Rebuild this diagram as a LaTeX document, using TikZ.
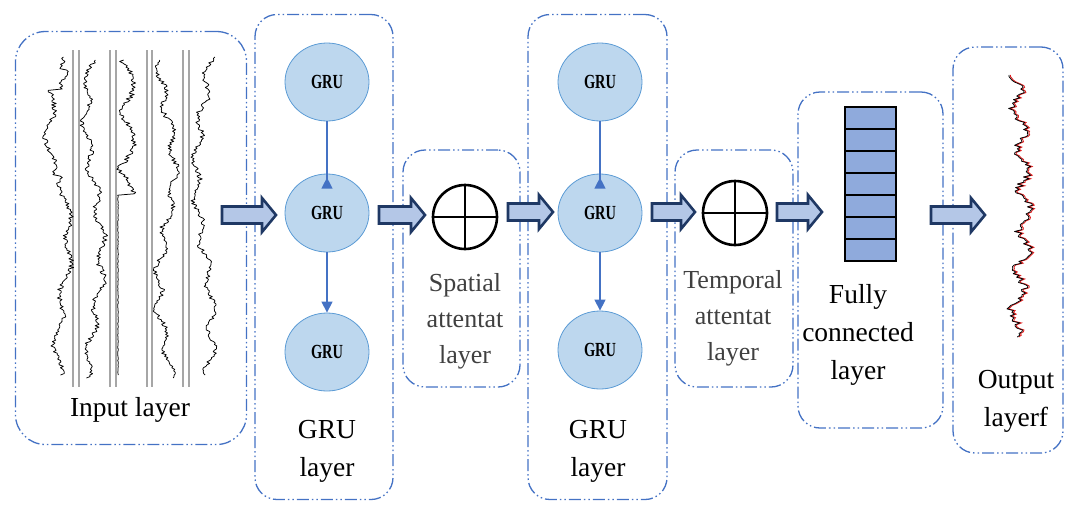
\documentclass[tikz,border=0pt]{standalone}
\usepackage{fontspec}
\usepackage{graphicx}
\setmainfont{Liberation Serif}
\usetikzlibrary{shapes.geometric,arrows.meta}
\definecolor{boxblue}{HTML}{4472C4}
\definecolor{cellfill}{HTML}{BDD7EE}
\definecolor{celledge}{HTML}{5B9BD5}
\definecolor{linkblue}{HTML}{4472C4}
\definecolor{arrfill}{HTML}{B4C7E7}
\definecolor{arredge}{HTML}{1F3864}
\definecolor{fcfill}{HTML}{8FAADC}
\definecolor{trackgray}{HTML}{A6A6A6}
\definecolor{curvered}{HTML}{E02020}
\tikzset{
  layerbox/.style={draw=boxblue, line width=1.3pt, rounded corners=22pt,
    dash pattern=on 12pt off 3pt on 1.5pt off 3pt on 1.5pt off 3pt, inner sep=0pt},
  grucell/.style={ellipse, draw=celledge, fill=cellfill, line width=0.8pt,
    minimum width=84pt, minimum height=78pt, inner sep=0pt,
    font=\bfseries\fontsize{20}{20}\selectfont},
  link/.style={draw=linkblue, line width=1.3pt},
  barrow/.style={draw=arredge, fill=arrfill, line width=2.6pt, line join=miter},
  oplusnode/.style={circle, draw=black, line width=2.6pt, minimum size=64pt, inner sep=0pt},
  lbl/.style={align=center, font=\fontsize{27.5}{38}\selectfont, inner sep=0pt},
  lblgray/.style={align=center, font=\fontsize{26}{36}\selectfont, text=black!75, inner sep=0pt},
  fccell/.style={draw=black, fill=fcfill, line width=1.5pt, minimum width=51pt, minimum height=22pt, inner sep=0pt},
  track/.style={draw=trackgray, line width=1.1pt},
  wave/.style={draw=black, line width=0.75pt, line join=round},
}
\newcommand\blockarr[3]{%
  \draw[barrow] (#1,#3-8.5) -- (#2-14,#3-8.5) -- (#2-14,#3-17) -- (#2,#3)
    -- (#2-14,#3+17) -- (#2-14,#3+8.5) -- (#1,#3+8.5) -- cycle;}
\newcommand\grutext{\scalebox{0.72}[1]{GRU}}
\begin{document}
\begin{tikzpicture}[x=1pt,y=-1pt]
\useasboundingbox (0,0) rectangle (1067,504);

% layer boxes
\node[layerbox, rounded corners=30pt, minimum width=231pt, minimum height=413pt] (inbox) at (131,238) {};
\node[layerbox, minimum width=138pt, minimum height=485pt] (grubox1) at (324,257) {};
\node[layerbox, minimum width=117pt, minimum height=237pt] (spbox) at (461.5,268.5) {};
\node[layerbox, minimum width=139pt, minimum height=485pt] (grubox2) at (597.5,257) {};
\node[layerbox, minimum width=118pt, minimum height=237pt] (tpbox) at (734,268.5) {};
\node[layerbox, minimum width=145pt, minimum height=336pt] (fcbox) at (870.5,260) {};
\node[layerbox, minimum width=110pt, minimum height=406pt] (outbox) at (1008,250) {};

% input curves
\foreach \tx in {73,79,110,116,147,152,183,189}{
  \draw[track] (\tx,50) -- (\tx,387);
}
\pgfmathsetseed{7}
\draw[wave] plot[domain=57:375, samples=220] ({55+6*sin(1.7*\x+40)+4*sin(7*\x+30)+2.5*rand+(\x>175?8:0)+(\x>70&&\x<90?10:0)}, \x);
\draw[wave] plot[domain=60:378, samples=220] ({94+8*sin(1.3*\x+120)+4*sin(8*\x)+2.5*rand}, \x);
\draw[wave] plot[domain=60:375, samples=220] ({118+(\x<195?16*abs(sin(3.2*\x))+3*rand:0.4*rand)}, \x);
\draw[wave] plot[domain=60:378, samples=220] ({166+8*sin(1.5*\x+200)+4*sin(9*\x)+2.5*rand}, \x);
\draw[wave] plot[domain=57:375, samples=220] ({204+8*sin(1.2*\x+60)+4*sin(8.5*\x)+2.5*rand}, \x);
\node[lbl] (inlbl) at (130,410) {Input layer};

% GRU layer 1
\node[grucell] (g1t) at (327,82) {\grutext};
\node[grucell] (g1m) at (327,213) {\grutext};
\node[grucell] (g1b) at (327,352) {\grutext};
\draw[link, -{Triangle[reversed,length=11pt,width=11pt]}] (g1t.south) -- ([yshift=-15pt]g1m.north);
\draw[link, -{Triangle[length=11pt,width=11pt]}] (g1m.south) -- (g1b.north);
\node[lbl] (g1lbl) at (327,451) {GRU\\layer};

% spatial attention
\node[oplusnode] (sp) at (465,217) {};
\draw[line width=2.6pt] (sp.north) -- (sp.south) (sp.west) -- (sp.east);
\node[lblgray] (splbl) at (465,321) {Spatial\\attentat\\layer};

% GRU layer 2
\node[grucell] (g2t) at (600,82) {\grutext};
\node[grucell] (g2m) at (600,213) {\grutext};
\node[grucell] (g2b) at (600,350) {\grutext};
\draw[link, -{Triangle[reversed,length=11pt,width=11pt]}] (g2t.south) -- ([yshift=-15pt]g2m.north);
\draw[link, -{Triangle[length=11pt,width=11pt]}] (g2m.south) -- (g2b.north);
\node[lbl] (g2lbl) at (598,451) {GRU\\layer};

% temporal attention
\node[oplusnode] (tp) at (735,213) {};
\draw[line width=2.6pt] (tp.north) -- (tp.south) (tp.west) -- (tp.east);
\node[lblgray] (tplbl) at (733,318) {Temporal\\attentat\\layer};

% fully connected
\foreach \i in {0,...,6}{
  \node[fccell] (fc\i) at (870.5,118+22*\i) {};
}
\node[lbl] (fclbl) at (858,335) {Fully\\connected\\layer};

% output
\pgfmathsetseed{11}
\draw[curvered, line width=0.9pt] plot[domain=75:337, samples=150] ({1014.5+12*sin(0.7*(\x-75))+6*sin(9*\x)+4*rand}, \x);
\pgfmathsetseed{11}
\draw[wave] plot[domain=75:337, samples=150] ({1013+12*sin(0.7*(\x-75))+6*sin(9*\x)+4*rand}, \x);
\node[lbl] (outlbl) at (1016,401) {Output\\layerf};

% block arrows
\blockarr{222}{276}{215}
\blockarr{379}{425}{215}
\blockarr{508}{553}{212}
\blockarr{652}{695}{212}
\blockarr{777}{822}{212}
\blockarr{931}{985}{215}
\end{tikzpicture}
\end{document}
